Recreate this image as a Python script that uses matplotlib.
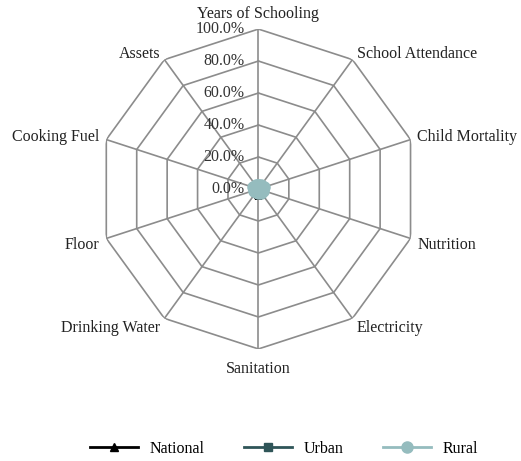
import numpy as np
import matplotlib.pyplot as plt

categories = ["Years of Schooling", "School Attendance", "Child Mortality", "Nutrition",
              "Electricity", "Sanitation", "Drinking Water", "Floor", "Cooking Fuel", "Assets"]
national = [1.5, 1.8, 1.2, 2.4, 2.8, 3.0, 2.6, 1.9, 2.0, 1.6]
urban = [0.8, 0.9, 0.7, 1.2, 1.4, 1.6, 1.3, 1.0, 1.1, 0.8]
rural = [2.6, 3.0, 3.4, 3.2, 2.8, 2.4, 2.6, 3.2, 3.6, 3.0]
r_ticks = [0, 20, 40, 60, 80, 100]
r_labels = ["0.0%", "20.0%", "40.0%", "60.0%", "80.0%", "100.0%"]

plt.rcParams['font.family'] = ['Liberation Serif', 'DejaVu Serif']
plt.rcParams['font.size'] = 11.5

fig = plt.figure(figsize=(5.21, 4.61), dpi=100)
ax = fig.add_axes([0.189, 0.243, 0.614, 0.694], projection='polar')
ax.set_theta_offset(np.pi / 2)
ax.set_theta_direction(-1)
ax.set_ylim(0, 100)
ax.grid(False)
ax.spines['polar'].set_visible(False)
ax.set_xticks([])
ax.set_yticks([])

n = len(categories)
theta = np.arange(n) * 2 * np.pi / n
closed = np.append(theta, theta[0])

grid_col = '#8c8c8c'
for r in r_ticks[1:]:
    ax.plot(closed, [r] * (n + 1), color=grid_col, lw=1.2, zorder=1)
for t in theta:
    ax.plot([t, t], [0, 100], color=grid_col, lw=1.2, zorder=1)

for r, lab in zip(r_ticks, r_labels):
    ax.annotate(lab, xy=(0, r), xytext=(-10, 0), textcoords='offset points',
                ha='right', va='center', color='#333333')

for t, lab in zip(theta, categories):
    ang = np.degrees(t)
    dy = 0
    if ang < 1:
        ha, va, off = 'center', 'bottom', 5
    elif abs(ang - 180) < 1:
        ha, va, off = 'center', 'top', 7
    elif ang < 180:
        ha, va, off = 'left', 'center', 5
    else:
        ha, va, off = 'right', 'center', 5
    if 100 < ang < 260 and abs(ang - 180) > 1:
        dy = -3
    elif 80 < ang < 280:
        dy = -2
    ax.annotate(lab, xy=(t, 100), xytext=(off * np.sin(t), off * np.cos(t) + dy),
                textcoords='offset points', ha=ha, va=va, color='#222222')

def close(v):
    return list(v) + [v[0]]

ax.plot(closed, close(national), color='black', lw=2, marker='^', ms=6, label='National', zorder=3)
ax.plot(closed, close(urban), color='#2f5558', lw=2, marker='s', ms=6, label='Urban', zorder=4)
ax.plot(closed, close(rural), color='#95bcbe', lw=2, marker='o', ms=8, label='Rural', zorder=5)

fig.legend(loc='lower center', bbox_to_anchor=(0.545, -0.022), ncol=3, frameon=False,
           handlelength=3.0, columnspacing=2.5, handletextpad=0.7)

fig.savefig('out.png', dpi=100)
